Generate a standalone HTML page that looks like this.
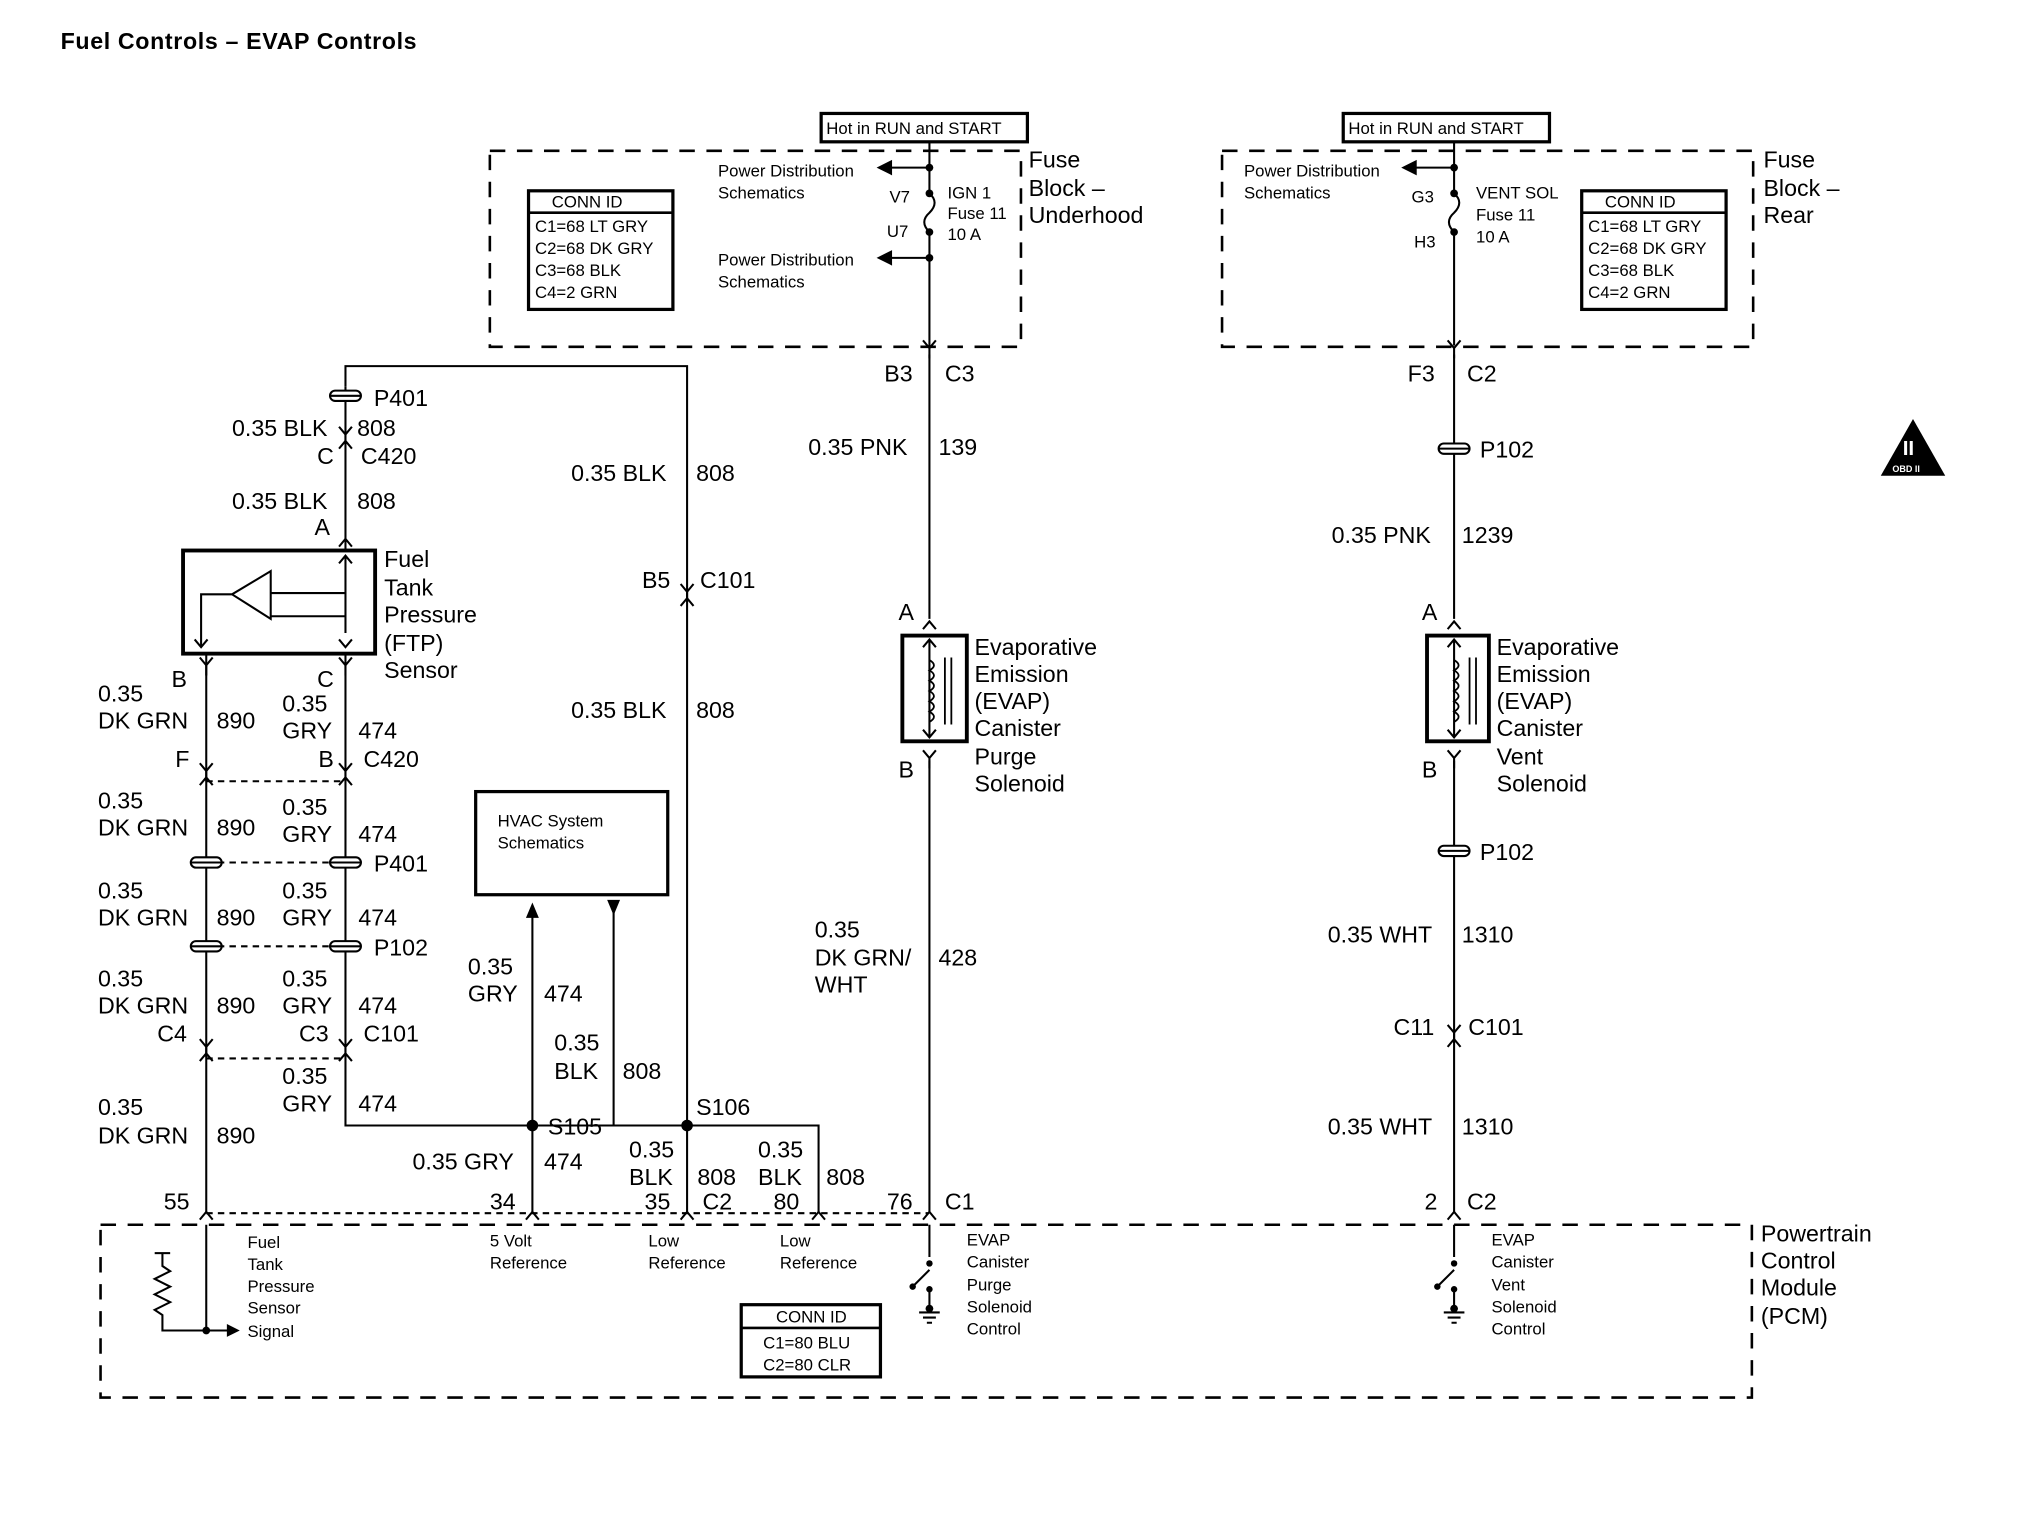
<!DOCTYPE html>
<html><head><meta charset="utf-8"><style>
html,body{margin:0;padding:0;background:#fff}
svg{display:block}
text{font-family:"Liberation Sans",Arial,sans-serif;fill:#000}
.l{font-size:18px}.s{font-size:13px}
</style></head><body>
<svg width="2020" height="1520" viewBox="0 0 1567 1179" preserveAspectRatio="none" xmlns="http://www.w3.org/2000/svg">
<defs>
<g id="cd"><path d="M-5,-6 L0,0 L5,-6 M0,0 L0,8" stroke="#000" stroke-width="1.6" fill="none"/></g>
<g id="cu"><path d="M-5,6 L0,0 L5,6" stroke="#000" stroke-width="1.6" fill="none"/></g>
<g id="pp"><rect x="-12" y="-4" width="24" height="8" rx="4" fill="#fff" stroke="#000" stroke-width="1.6"/><line x1="-12" y1="0" x2="12" y2="0" stroke="#000" stroke-width="1.6"/></g>
</defs>
<text x="47" y="38" style="font-size:18px;font-weight:bold;letter-spacing:0.5px">Fuel Controls – EVAP Controls</text>

<!-- left fuse block -->
<rect x="637" y="88" width="160" height="22" fill="none" stroke="#000" stroke-width="2.5"/>
<text x="641" y="104" class="s">Hot in RUN and START</text>
<rect x="380" y="117" width="412" height="152" fill="none" stroke="#000" stroke-width="2" stroke-dasharray="12,9"/>
<text x="798" y="130" class="l">Fuse</text><text x="798" y="152" class="l">Block –</text><text x="798" y="173" class="l">Underhood</text>
<g stroke="#000" stroke-width="1.6" fill="none">
<path d="M721,110 V150 M721,180 V268"/>
<path d="M721,150 q8,7 0,15 q-8,7 0,15"/>
<path d="M721,130 H690 M721,200 H690"/>
</g>
<polygon points="680,130 692,124 692,136"/><polygon points="680,200 692,194 692,206"/>
<circle cx="721" cy="130" r="3"/><circle cx="721" cy="200" r="3"/><circle cx="721" cy="150" r="3"/><circle cx="721" cy="180" r="3"/>
<text x="557" y="137" class="s">Power Distribution</text><text x="557" y="154" class="s">Schematics</text>
<text x="557" y="206" class="s">Power Distribution</text><text x="557" y="223" class="s">Schematics</text>
<text x="690" y="157" class="s">V7</text><text x="688" y="184" class="s">U7</text>
<text x="735" y="154" class="s">IGN 1</text><text x="735" y="170" class="s">Fuse 11</text><text x="735" y="186" class="s">10 A</text>
<rect x="410" y="148" width="112" height="92" fill="none" stroke="#000" stroke-width="2.5"/><line x1="410" y1="165" x2="522" y2="165" stroke="#000" stroke-width="2"/>
<text x="428" y="161" class="s">CONN ID</text><text x="415" y="180" class="s">C1=68 LT GRY</text><text x="415" y="197" class="s">C2=68 DK GRY</text><text x="415" y="214" class="s">C3=68 BLK</text><text x="415" y="231" class="s">C4=2 GRN</text>

<!-- right fuse block -->
<rect x="1042" y="88" width="160" height="22" fill="none" stroke="#000" stroke-width="2.5"/>
<text x="1046" y="104" class="s">Hot in RUN and START</text>
<rect x="948" y="117" width="412" height="152" fill="none" stroke="#000" stroke-width="2" stroke-dasharray="12,9"/>
<text x="1368" y="130" class="l">Fuse</text><text x="1368" y="152" class="l">Block –</text><text x="1368" y="173" class="l">Rear</text>
<g stroke="#000" stroke-width="1.6" fill="none">
<path d="M1128,110 V150 M1128,180 V268"/>
<path d="M1128,150 q8,7 0,15 q-8,7 0,15"/>
<path d="M1128,130 H1097"/>
</g>
<polygon points="1087,130 1099,124 1099,136"/>
<circle cx="1128" cy="130" r="3"/><circle cx="1128" cy="150" r="3"/><circle cx="1128" cy="180" r="3"/>
<text x="965" y="137" class="s">Power Distribution</text><text x="965" y="154" class="s">Schematics</text>
<text x="1095" y="157" class="s">G3</text><text x="1097" y="192" class="s">H3</text>
<text x="1145" y="154" class="s">VENT SOL</text><text x="1145" y="171" class="s">Fuse 11</text><text x="1145" y="188" class="s">10 A</text>
<rect x="1227" y="148" width="112" height="92" fill="none" stroke="#000" stroke-width="2.5"/><line x1="1227" y1="165" x2="1339" y2="165" stroke="#000" stroke-width="2"/>
<text x="1245" y="161" class="s">CONN ID</text><text x="1232" y="180" class="s">C1=68 LT GRY</text><text x="1232" y="197" class="s">C2=68 DK GRY</text><text x="1232" y="214" class="s">C3=68 BLK</text><text x="1232" y="231" class="s">C4=2 GRN</text>

<!-- OBD II -->
<polygon points="1484,325 1459,369 1509,369" fill="#000"/>
<text x="1476" y="353" style="font-size:16px;font-weight:bold;fill:#fff">II</text>
<text x="1468" y="366" style="font-size:7px;font-weight:bold;fill:#fff">OBD II</text>

<!-- wires -->
<g stroke="#000" stroke-width="1.6" fill="none">
<path d="M721,275 V480 M721,590 V941"/>
<path d="M1128,275 V480 M1128,590 V941"/>
<path d="M268,300 V284 H533 V941"/>
<path d="M268,300 V427 M160,507 V941 M268,507 V873 H635 V941"/>
<path d="M413,873 V941 M413,705 V873 M476,703 V873"/>
<path d="M160,606 H268 M160,669 H268 M160,734 H268 M160,821 H268 M160,941 H720" stroke-dasharray="5,4"/>
</g>
<polygon points="413,700 408,712 418,712"/><polygon points="476,710 471,698 481,698"/>
<circle cx="413" cy="873" r="4.5"/><circle cx="533" cy="873" r="4.5"/>
<use href="#cd" x="721" y="270"/><use href="#cd" x="1128" y="270"/>
<use href="#cu" x="721" y="482"/><use href="#cu" x="1128" y="482"/>
<use href="#cd" x="721" y="588"/><use href="#cd" x="1128" y="588"/>
<use href="#cu" x="721" y="940"/><use href="#cu" x="1128" y="940"/>
<use href="#cu" x="160" y="940"/><use href="#cu" x="413" y="940"/><use href="#cu" x="533" y="940"/><use href="#cu" x="635" y="940"/>
<use href="#cd" x="268" y="337"/><use href="#cu" x="268" y="342"/>
<use href="#cu" x="268" y="418"/>
<use href="#cd" x="160" y="516"/><use href="#cd" x="268" y="516"/>
<use href="#cd" x="160" y="598"/><use href="#cu" x="160" y="603"/>
<use href="#cd" x="268" y="598"/><use href="#cu" x="268" y="603"/>
<use href="#cd" x="160" y="812"/><use href="#cu" x="160" y="817"/>
<use href="#cd" x="268" y="812"/><use href="#cu" x="268" y="817"/>
<use href="#cd" x="533" y="459"/><use href="#cu" x="533" y="464"/>
<use href="#cd" x="1128" y="801"/><use href="#cu" x="1128" y="806"/>
<use href="#pp" x="268" y="307"/><use href="#pp" x="160" y="669"/><use href="#pp" x="268" y="669"/>
<use href="#pp" x="160" y="734"/><use href="#pp" x="268" y="734"/>
<use href="#pp" x="1128" y="348"/><use href="#pp" x="1128" y="660"/>

<!-- FTP sensor -->
<rect x="142" y="427" width="149" height="80" fill="none" stroke="#000" stroke-width="3"/>
<g stroke="#000" stroke-width="1.6" fill="none">
<path d="M268,432 V491 M268,460 H210 M268,478 H210 M210,443 L180,461 L210,480 Z M180,461 H156 V501"/>
<path d="M263,437 L268,431 L273,437 M263,496 L268,502 L273,496 M151,496 L156,502 L161,496"/>
</g>
<text x="298" y="440" class="l">Fuel</text><text x="298" y="462" class="l">Tank</text><text x="298" y="483" class="l">Pressure</text><text x="298" y="505" class="l">(FTP)</text><text x="298" y="526" class="l">Sensor</text>

<!-- solenoids -->
<g stroke="#000" fill="none">
<rect x="700" y="493" width="50" height="82" stroke-width="3"/>
<path d="M721,497 V571 M716,502 L721,496 L726,502 M716,566 L721,572 L726,566" stroke-width="1.6"/>
<path d="M721,512 q7,4 0,8 q7,4 0,8 q7,4 0,8 q7,4 0,8 q7,4 0,8 q7,4 0,8" stroke-width="1.4"/>
<path d="M733,510 V562 M738,510 V562" stroke-width="1.4"/>
<rect x="1107" y="493" width="48" height="82" stroke-width="3"/>
<path d="M1128,497 V571 M1123,502 L1128,496 L1133,502 M1123,566 L1128,572 L1133,566" stroke-width="1.6"/>
<path d="M1128,512 q7,4 0,8 q7,4 0,8 q7,4 0,8 q7,4 0,8 q7,4 0,8 q7,4 0,8" stroke-width="1.4"/>
<path d="M1140,510 V562 M1145,510 V562" stroke-width="1.4"/>
</g>
<text x="756" y="508" class="l">Evaporative</text><text x="756" y="529" class="l">Emission</text><text x="756" y="550" class="l">(EVAP)</text><text x="756" y="571" class="l">Canister</text><text x="756" y="593" class="l">Purge</text><text x="756" y="614" class="l">Solenoid</text>
<text x="1161" y="508" class="l">Evaporative</text><text x="1161" y="529" class="l">Emission</text><text x="1161" y="550" class="l">(EVAP)</text><text x="1161" y="571" class="l">Canister</text><text x="1161" y="593" class="l">Vent</text><text x="1161" y="614" class="l">Solenoid</text>

<!-- HVAC -->
<rect x="369" y="614" width="149" height="80" fill="none" stroke="#000" stroke-width="2.5"/>
<text x="386" y="641" class="s">HVAC System</text><text x="386" y="658" class="s">Schematics</text>

<!-- labels -->
<text x="686" y="296" class="l">B3</text><text x="733" y="296" class="l">C3</text>
<text x="627" y="353" class="l">0.35 PNK</text><text x="728" y="353" class="l">139</text>
<text x="697" y="481" class="l">A</text><text x="697" y="603" class="l">B</text>
<text x="632" y="727" class="l">0.35</text><text x="632" y="749" class="l">DK GRN/</text><text x="632" y="770" class="l">WHT</text><text x="728" y="749" class="l">428</text>
<text x="688" y="938" class="l">76</text><text x="733" y="938" class="l">C1</text>

<text x="1092" y="296" class="l">F3</text><text x="1138" y="296" class="l">C2</text>
<text x="1148" y="355" class="l">P102</text>
<text x="1033" y="421" class="l">0.35 PNK</text><text x="1134" y="421" class="l">1239</text>
<text x="1103" y="481" class="l">A</text><text x="1103" y="603" class="l">B</text>
<text x="1148" y="667" class="l">P102</text>
<text x="1030" y="731" class="l">0.35 WHT</text><text x="1134" y="731" class="l">1310</text>
<text x="1081" y="803" class="l">C11</text><text x="1139" y="803" class="l">C101</text>
<text x="1030" y="880" class="l">0.35 WHT</text><text x="1134" y="880" class="l">1310</text>
<text x="1105" y="938" class="l">2</text><text x="1138" y="938" class="l">C2</text>

<text x="290" y="315" class="l">P401</text>
<text x="180" y="338" class="l">0.35 BLK</text><text x="277" y="338" class="l">808</text>
<text x="246" y="360" class="l">C</text><text x="280" y="360" class="l">C420</text>
<text x="180" y="395" class="l">0.35 BLK</text><text x="277" y="395" class="l">808</text>
<text x="244" y="415" class="l">A</text>
<text x="133" y="533" class="l">B</text><text x="246" y="533" class="l">C</text>
<text x="76" y="544" class="l">0.35</text><text x="76" y="565" class="l">DK GRN</text><text x="168" y="565" class="l">890</text>
<text x="219" y="552" class="l">0.35</text><text x="219" y="573" class="l">GRY</text><text x="278" y="573" class="l">474</text>
<text x="136" y="595" class="l">F</text><text x="247" y="595" class="l">B</text><text x="282" y="595" class="l">C420</text>
<text x="76" y="627" class="l">0.35</text><text x="76" y="648" class="l">DK GRN</text><text x="168" y="648" class="l">890</text>
<text x="219" y="632" class="l">0.35</text><text x="219" y="653" class="l">GRY</text><text x="278" y="653" class="l">474</text>
<text x="290" y="676" class="l">P401</text>
<text x="76" y="697" class="l">0.35</text><text x="76" y="718" class="l">DK GRN</text><text x="168" y="718" class="l">890</text>
<text x="219" y="697" class="l">0.35</text><text x="219" y="718" class="l">GRY</text><text x="278" y="718" class="l">474</text>
<text x="290" y="741" class="l">P102</text>
<text x="76" y="765" class="l">0.35</text><text x="76" y="786" class="l">DK GRN</text><text x="168" y="786" class="l">890</text>
<text x="219" y="765" class="l">0.35</text><text x="219" y="786" class="l">GRY</text><text x="278" y="786" class="l">474</text>
<text x="122" y="808" class="l">C4</text><text x="232" y="808" class="l">C3</text><text x="282" y="808" class="l">C101</text>
<text x="219" y="841" class="l">0.35</text><text x="219" y="862" class="l">GRY</text><text x="278" y="862" class="l">474</text>
<text x="76" y="865" class="l">0.35</text><text x="76" y="887" class="l">DK GRN</text><text x="168" y="887" class="l">890</text>
<text x="127" y="938" class="l">55</text>
<text x="443" y="373" class="l">0.35 BLK</text><text x="540" y="373" class="l">808</text>
<text x="498" y="456" class="l">B5</text><text x="543" y="456" class="l">C101</text>
<text x="443" y="557" class="l">0.35 BLK</text><text x="540" y="557" class="l">808</text>
<text x="363" y="756" class="l">0.35</text><text x="363" y="777" class="l">GRY</text><text x="422" y="777" class="l">474</text>
<text x="430" y="815" class="l">0.35</text><text x="430" y="837" class="l">BLK</text><text x="483" y="837" class="l">808</text>
<text x="540" y="865" class="l">S106</text><text x="425" y="880" class="l">S105</text>
<text x="320" y="907" class="l">0.35 GRY</text><text x="422" y="907" class="l">474</text>
<text x="380" y="938" class="l">34</text>
<text x="488" y="898" class="l">0.35</text><text x="488" y="919" class="l">BLK</text><text x="541" y="919" class="l">808</text>
<text x="500" y="938" class="l">35</text><text x="545" y="938" class="l">C2</text>
<text x="588" y="898" class="l">0.35</text><text x="588" y="919" class="l">BLK</text><text x="641" y="919" class="l">808</text>
<text x="600" y="938" class="l">80</text>

<!-- PCM -->
<rect x="78" y="950" width="1281" height="134" fill="none" stroke="#000" stroke-width="2" stroke-dasharray="12,9"/>
<text x="1366" y="963" class="l">Powertrain</text><text x="1366" y="984" class="l">Control</text><text x="1366" y="1005" class="l">Module</text><text x="1366" y="1027" class="l">(PCM)</text>
<g stroke="#000" stroke-width="1.6" fill="none">
<path d="M160,950 V1032 H178 M126,972 V982 l6,4 l-12,6 l12,6 l-12,6 l12,6 l-12,6 l6,4 V1032 H160"/>
<path d="M120,972 H132"/>
<path d="M721,950 V975 M721,985 L708,998 M721,1000 V1018 M713,1018 H729 M716,1022 H726 M719,1026 H723"/>
<path d="M1128,950 V975 M1128,985 L1115,998 M1128,1000 V1018 M1120,1018 H1136 M1123,1022 H1133 M1126,1026 H1130"/>
</g>
<polygon points="186,1032 176,1027 176,1037"/><circle cx="160" cy="1032" r="3"/>
<circle cx="721" cy="980" r="2.5"/><circle cx="708" cy="998" r="2.5"/><circle cx="721" cy="1000" r="2.5"/><circle cx="721" cy="1015" r="3"/>
<circle cx="1128" cy="980" r="2.5"/><circle cx="1115" cy="998" r="2.5"/><circle cx="1128" cy="1000" r="2.5"/><circle cx="1128" cy="1015" r="3"/>
<text x="192" y="968" class="s">Fuel</text><text x="192" y="985" class="s">Tank</text><text x="192" y="1002" class="s">Pressure</text><text x="192" y="1019" class="s">Sensor</text><text x="192" y="1037" class="s">Signal</text>
<text x="380" y="967" class="s">5 Volt</text><text x="380" y="984" class="s">Reference</text>
<text x="503" y="967" class="s">Low</text><text x="503" y="984" class="s">Reference</text>
<text x="605" y="967" class="s">Low</text><text x="605" y="984" class="s">Reference</text>
<text x="750" y="966" class="s">EVAP</text><text x="750" y="983" class="s">Canister</text><text x="750" y="1001" class="s">Purge</text><text x="750" y="1018" class="s">Solenoid</text><text x="750" y="1035" class="s">Control</text>
<text x="1157" y="966" class="s">EVAP</text><text x="1157" y="983" class="s">Canister</text><text x="1157" y="1001" class="s">Vent</text><text x="1157" y="1018" class="s">Solenoid</text><text x="1157" y="1035" class="s">Control</text>
<rect x="575" y="1012" width="108" height="56" fill="none" stroke="#000" stroke-width="2.5"/><line x1="575" y1="1030" x2="683" y2="1030" stroke="#000" stroke-width="2"/>
<text x="602" y="1026" class="s">CONN ID</text><text x="592" y="1046" class="s">C1=80 BLU</text><text x="592" y="1063" class="s">C2=80 CLR</text>
</svg>
</body></html>
